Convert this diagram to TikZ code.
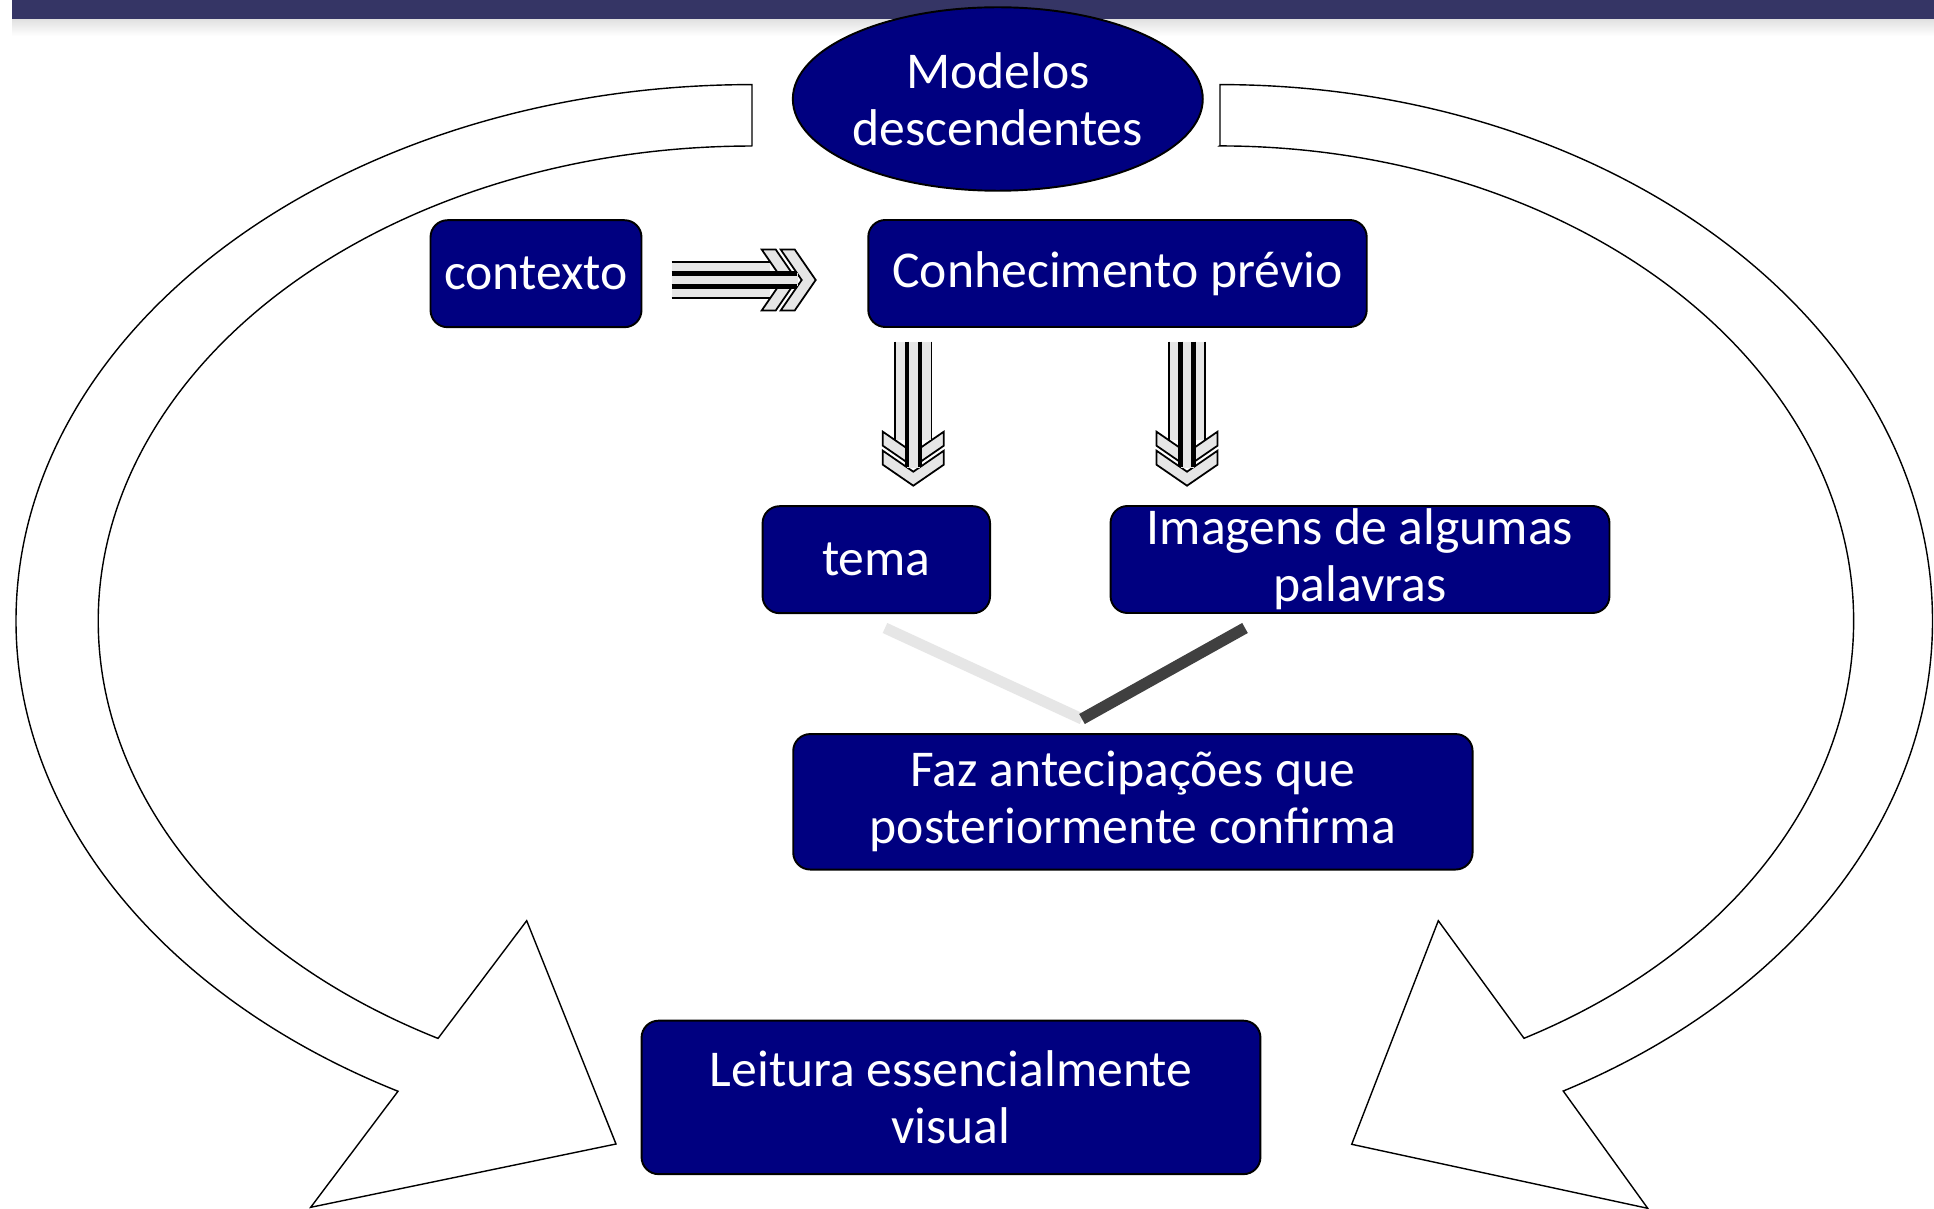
\documentclass[tikz,border=0pt]{standalone}
\usepackage{fontspec}
\setmainfont{Carlito}
\usetikzlibrary{shapes.geometric}

\definecolor{azul}{HTML}{000080}
\definecolor{barra}{HTML}{353565}
\definecolor{cinzaclaro}{HTML}{E6E6E6}
\definecolor{cinzaescuro}{HTML}{404040}

\tikzset{
  caixa/.style={rectangle, rounded corners=0.34cm, draw=black, line width=1.1pt,
    fill=azul, text=white, align=center, inner sep=0pt,
    font=\fontsize{29.4pt}{32.5pt}\selectfont},
  oval/.style={ellipse, draw=black, line width=1.1pt, fill=azul, text=white,
    align=center, inner sep=0pt, font=\fontsize{29.4pt}{32.5pt}\selectfont},
  setacurva/.style={draw=black, fill=white, line width=0.8pt, line join=miter},
  chevron/.style={draw=black, fill=cinzaclaro, line width=1pt, line join=miter},
}

% seta listrada com ponta dupla, desenhada ao longo do eixo x local
\newcommand{\setalistrada}{%
  \filldraw[chevron] (90,30.5) -- (111,0) -- (90,-30.5) -- (104,-30.5) -- (125,0) -- (104,30.5) -- cycle;
  \filldraw[chevron] (109,30.5) -- (130,0) -- (109,-30.5) -- (123,-30.5) -- (144,0) -- (123,30.5) -- cycle;
  \fill[cinzaclaro] (0,-18.3) rectangle (98.4,18.3);
  \draw[line width=1pt] (0,18.3) -- (98.4,18.3) (0,-18.3) -- (98.4,-18.3);
  \fill[cinzaclaro] (97,-6.5) rectangle (126,6.5);
  \draw[line width=2.6pt] (0,6.5) -- (125,6.5) (0,-6.5) -- (125,-6.5);
}

\begin{document}
\begin{tikzpicture}[x=0.02cm, y=-0.02cm]
  \fill[white] (0,0) rectangle (1934,1209);
  \useasboundingbox (0,0) rectangle (1934,1209);

  % barra do topo
  \shade[top color=black!12, bottom color=white] (12,19) rectangle (1934,36);
  \fill[barra] (12,0) rectangle (1934,19);

  % setas curvas
  \draw[setacurva] (752,145.6) -- (752,84.6)
    arc[start angle=270, end angle=118.75, x radius=736, y radius=536.4]
    -- (310.7,1207.3) -- (616,1144) -- (526.7,920.7) -- (438,1038.4)
    arc[start angle=118.7, end angle=270, x radius=653.5, y radius=475.4] -- cycle;
  \draw[setacurva] (1220,145.6) -- (1220,84.6)
    arc[start angle=-90, end angle=61.2, x radius=712.5, y radius=536.4]
    -- (1647.7,1208.3) -- (1351.7,1144.3) -- (1438.3,920.7) -- (1524,1038.3)
    arc[start angle=61.3, end angle=-90, x radius=634, y radius=475.4] -- cycle;

  \node[oval, minimum width=8.19cm, minimum height=3.67cm] (modelos) at (997.8,99) {Modelos\\descendentes};
  \node[caixa, minimum width=4.22cm, minimum height=2.14cm] (contexto) at (536,273.7) {contexto};
  \node[caixa, minimum width=9.97cm, minimum height=2.14cm] (conhecimento) at (1117.5,273.5) {Conhecimento prévio\vphantom{l}};
  \node[caixa, minimum width=4.55cm, minimum height=2.14cm] (tema) at (876.3,559.7) {tema};
  \node[caixa, minimum width=9.98cm, minimum height=2.14cm] (imagens) at (1360,559.5) {Imagens de algumas\\palavras};
  \node[caixa, minimum width=13.59cm, minimum height=2.71cm] (faz) at (1132.9,801.8) {Faz antecipações que\\posteriormente confirma};
  \node[caixa, minimum width=12.38cm, minimum height=3.07cm] (leitura) at (951,1097.4) {Leitura essencialmente\\visual};

  % setas listradas
  \begin{scope}[shift={(671.7,280)}]
    \setalistrada
  \end{scope}
  \foreach \xs in {913.3,1187}{
    \begin{scope}[shift={(\xs,341.7)}, rotate=-90]
      \setalistrada
    \end{scope}
  }

  % linhas em V
  \coordinate (tfim) at (885,628);
  \coordinate (ifim) at (1245,628);
  \coordinate (vert) at (1082,719);
  \draw[line width=0.22cm, cinzaclaro] (tfim) -- (vert);
  \draw[line width=0.23cm, cinzaescuro] (vert) -- (ifim);
\end{tikzpicture}
\end{document}
